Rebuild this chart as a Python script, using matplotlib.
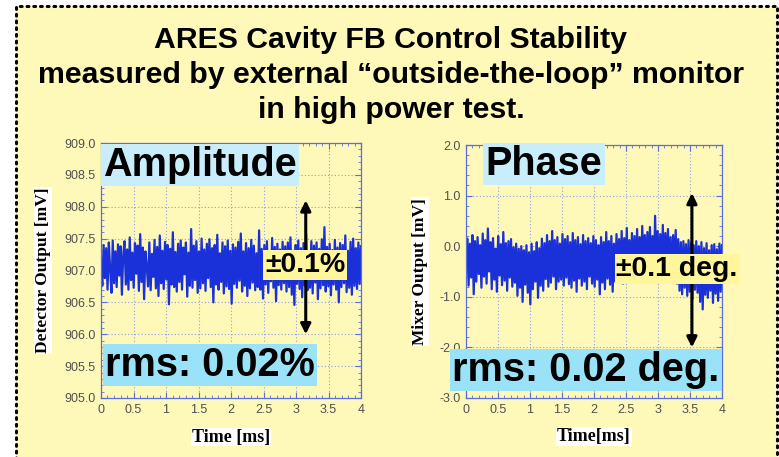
import numpy as np
import matplotlib
matplotlib.use("Agg")
import matplotlib.pyplot as plt
from matplotlib.patches import Rectangle
from matplotlib.ticker import MultipleLocator, FormatStrFormatter

# detector output, offsets from 907.00 mV in units of 0.01 mV (0.02 ms per sample)
AMP_BASE = 907.0
amp_offset = [
    10, -24, 40, -12, 35, -30, 44, 2, -35, 47, -20, 30, -26, 41, -8, 38, -38, 24, 46, -22,
    33, -30, 52, -15, 28, -27, 43, -5, 39, -32, 57, -18, 36, -45, 30, 8, -25, 44, -31, 26,
    -10, 48, -28, 37, -40, 55, -20, 31, -29, 45, -14, 40, -53, 34, -22, 60, -26, 29, -33, 42,
    -18, 47, -30, 36, -6, 44, -41, 28, -24, 65, -27, 39, -15, 46, -35, 30, -28, 50, -20, 33,
    -32, 42, -12, 49, -26, 35, -50, 40, -22, 56, -30, 27, -18, 44, -36, 38, -25, 47, -29, 31,
    -52, 41, -21, 36, -27, 45, -16, 58, -33, 30, -24, 43, -40, 35, -28, 48, -19, 39, -31, 27,
    -26, 63, -30, 34, -44, 40, -22, 46, -35, 29, -17, 51, -27, 37, -48, 42, -23, 33, -30, 45,
    -20, 38, -33, 44, -26, 52, -38, 31, -54, 40, -21, 47, -29, 35, -42, 43, -24, 57, -31, 30,
    -27, 46, -36, 39, -19, 44, -45, 34, -28, 49, -23, 68, -33, 37, -25, 42, -39, 32, -22, 48,
    -30, 36, -50, 43, -26, 40, -20, 55, -34, 31, -27, 45, -38, 50, -24, 35, -29, 44, -21, 38,
]

# mixer output [mV], same sampling
phase_mv = [
    -0.35, 0.15, -0.78, 0.05, -0.62, 0.22, -0.95, 0.10, -0.70, 0.18, -0.55, 0.02, -0.82, 0.25, -0.60, 0.12, -0.74, 0.35, -0.50, 0.08,
    -0.85, 0.16, -0.66, -0.05, -0.90, 0.20, -0.58, 0.04, -0.77, 0.28, -0.68, 0.06, -0.88, 0.10, -0.62, 0.14, -0.80, -0.02, -0.72, 0.05,
    -0.98, -0.05, -0.82, 0.00, -1.10, -0.08, -0.76, 0.02, -0.92, -0.12, -1.15, 0.05, -0.85, -0.10, -0.70, 0.08, -1.02, -0.04, -0.78, 0.15,
    -0.88, 0.06, -0.65, 0.22, -0.80, 0.10, -0.72, 0.30, -0.60, 0.12, -0.85, 0.18, -0.70, 0.05, -0.66, 0.24, -0.78, 0.14, -0.62, 0.20,
    -0.75, 0.08, -0.82, 0.26, -0.68, 0.12, -0.90, 0.18, -0.64, 0.04, -0.78, 0.22, -0.70, 0.10, -0.85, 0.16, -0.60, 0.06, -0.74, 0.20,
    -0.80, 0.12, -0.66, 0.02, -0.95, 0.18, -0.72, 0.08, -0.85, 0.28, -0.64, 0.10, -0.76, 0.20, -0.90, 0.05, -0.70, 0.24, -0.68, 0.14,
    -0.62, 0.30, -0.74, 0.16, -0.58, 0.36, -0.70, 0.12, -0.64, 0.26, -0.55, 0.20, -0.72, 0.34, -0.60, 0.18, -0.68, 0.40, -0.52, 0.22,
    -0.66, 0.28, -0.58, 0.38, -0.70, 0.20, -0.62, 0.60, -0.54, 0.30, -0.68, 0.24, -0.60, 0.42, -0.72, 0.26, -0.56, 0.34, -0.64, 0.18,
    -0.70, 0.22, -0.60, 0.32, -0.74, 0.14, -0.88, 0.08, -0.95, 0.10, -0.82, 0.04, -0.98, 0.12, -0.90, 0.06, -1.05, 0.02, -0.86, 0.10,
    -0.92, 0.00, -1.10, 0.08, -1.25, -0.04, -0.96, 0.06, -1.02, -0.08, -0.88, 0.02, -1.12, 0.04, -0.94, -0.06, -1.08, 0.05, -0.90, 0.02,
]

T_END = 4.0  # ms
x_ticks = [0, 0.5, 1, 1.5, 2, 2.5, 3, 3.5, 4]
x_tick_labels = ["0", "0.5", "1", "1.5", "2", "2.5", "3", "3.5", "4"]

SANS = ["Liberation Sans", "DejaVu Sans"]
SERIF = ["Liberation Serif", "DejaVu Serif"]
BG = "#fff9b9"
LINE = "#1a30d8"
SPINE = "#5a6ee0"
GRID = "#8d9be6"
BOX_LIGHT = "#c9eefb"
BOX_CYAN = "#9ae2f7"
BOX_YELLOW = "#fff59a"

W, H = 779, 457


def fx(px):
    return px / W


def fy(py):
    return 1 - py / H


def style_axes(ax, ylim, ymajor, yminor, yfmt):
    ax.set_facecolor("none")
    ax.set_xlim(0, T_END)
    ax.set_ylim(*ylim)
    ax.set_xticks(x_ticks)
    ax.set_xticklabels(x_tick_labels)
    ax.xaxis.set_minor_locator(MultipleLocator(0.1))
    ax.yaxis.set_major_locator(MultipleLocator(ymajor))
    ax.yaxis.set_minor_locator(MultipleLocator(yminor))
    ax.yaxis.set_major_formatter(FormatStrFormatter(yfmt))
    for s in ax.spines.values():
        s.set_color(SPINE)
        s.set_linewidth(0.9)
    ax.tick_params(which="both", direction="in", top=True, right=True, color=SPINE,
                   labelsize=9, labelcolor="#505050", pad=4)
    ax.tick_params(which="major", length=4, width=0.8)
    ax.tick_params(which="minor", length=2, width=0.6)
    for lab in ax.get_xticklabels() + ax.get_yticklabels():
        lab.set_family(SANS)
    ax.grid(True, which="major", color=GRID, linestyle=(0, (1, 2)), linewidth=0.8)


fig = plt.figure(figsize=(W / 100, H / 100), dpi=100)
fig.patch.set_facecolor("white")

# dotted slide frame
frame = Rectangle((fx(16), -0.02), fx(777) - fx(16), fy(6) + 0.02, transform=fig.transFigure,
                  facecolor=BG, edgecolor="black", linewidth=2.2, linestyle=(0, (0.6, 1.6)),
                  zorder=-10)
frame.set_capstyle("round")
fig.patches.append(frame)

# title
title_lines = ["ARES Cavity FB Control Stability",
               "measured by external \u201coutside-the-loop\u201d monitor",
               "in high power test."]
for line, py in zip(title_lines, [40, 75, 110]):
    fig.text(fx(391), fy(py), line, ha="center", va="center", fontsize=21.8,
             fontweight="bold", family=SANS)

t = np.linspace(0, T_END, len(amp_offset))
amp = AMP_BASE + np.array(amp_offset) / 100.0
ph = np.array(phase_mv)

label_box = dict(facecolor="white", edgecolor="none", pad=0.5)

ax1 = fig.add_axes([fx(101), fy(398), fx(361) - fx(101), fy(143) - fy(398)])
ax1.plot(t, amp, color=LINE, linewidth=1.6)
style_axes(ax1, (905.0, 909.0), 0.5, 0.1, "%.1f")
ax1.set_ylabel("Detector Output [mV]", family=SERIF, fontweight="bold", fontsize=12.5,
               va="center", bbox=label_box)
ax1.yaxis.set_label_coords(-0.223, 0.5)
ax1.set_xlabel("Time [ms]", family=SERIF, fontweight="bold", fontsize=13, va="center",
               bbox=label_box)
ax1.xaxis.set_label_coords(0.5, -0.153)
ax1.annotate("", xy=(3.15, 908.1), xytext=(3.15, 906.0),
             arrowprops=dict(arrowstyle="<|-|>", color="black", lw=2.2,
                             mutation_scale=15, shrinkA=0, shrinkB=0))

ax2 = fig.add_axes([fx(466), fy(398), fx(722) - fx(466), fy(145) - fy(398)])
ax2.plot(t, ph, color=LINE, linewidth=1.6)
style_axes(ax2, (-3.0, 2.0), 1.0, 0.2, "%.1f")
ax2.set_ylabel("Mixer Output [mV]", family=SERIF, fontweight="bold", fontsize=12.5,
               va="center", bbox=label_box)
ax2.yaxis.set_label_coords(-0.18, 0.5)
ax2.set_xlabel("Time[ms]", family=SERIF, fontweight="bold", fontsize=13, va="center",
               bbox=label_box)
ax2.xaxis.set_label_coords(0.5, -0.153)
ax2.annotate("", xy=(3.53, 1.05), xytext=(3.53, -2.0),
             arrowprops=dict(arrowstyle="<|-|>", color="black", lw=2.2,
                             mutation_scale=15, shrinkA=0, shrinkB=0))

# callout boxes
callouts = [
    ("Amplitude", 200, 165, 28.5, BOX_LIGHT),
    ("rms: 0.02%", 210, 365, 28.5, BOX_CYAN),
    ("\u00b10.1%", 305, 265, 20.5, BOX_YELLOW),
    ("Phase", 544, 164, 28.5, BOX_LIGHT),
    ("rms: 0.02 deg.", 586, 370, 28.5, BOX_CYAN),
    ("\u00b10.1 deg.", 677, 269, 20.5, BOX_YELLOW),
]
for txt, px, py, size, color in callouts:
    fig.text(fx(px), fy(py), txt, ha="center", va="center", fontsize=size,
             fontweight="bold", family=SANS, zorder=5,
             bbox=dict(boxstyle="square,pad=0.06", facecolor=color, edgecolor="none"))

fig.savefig("out.png", dpi=100)
